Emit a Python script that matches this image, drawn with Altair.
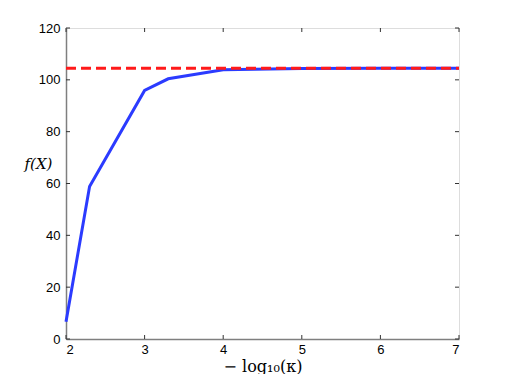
import altair as alt
import pandas as pd

x_vals = [2, 2.3, 3, 3.3, 4, 5, 6, 7]
f_vals = [6.7, 58.8, 95.9, 100.4, 103.9, 104.4, 104.5, 104.5]
ref_value = 104.5
x_ticks = [2, 3, 4, 5, 6, 7]
y_ticks = [0, 20, 40, 60, 80, 100, 120]

W, H = 393, 311
df = pd.DataFrame({"x": x_vals, "f": f_vals})
ref_df = pd.DataFrame({"x": [2, 7], "f": [ref_value, ref_value]})
xt = pd.DataFrame({"t": x_ticks})
yt = pd.DataFrame({"t": y_ticks})

xs = alt.Scale(domain=[2, 7], nice=False, zero=False)
ys = alt.Scale(domain=[0, 120], nice=False)

xaxis = alt.Axis(values=x_ticks, format="d", title="− log₁₀(κ)", titleFont="DejaVu Serif",
                 titleFontSize=16, titleFontWeight="normal", titleColor="black",
                 titlePadding=2, labelFont="Liberation Sans", labelFontSize=13,
                 labelColor="black", tickSize=0, labelPadding=4,
                 domainColor="#7f7f7f", domainWidth=1.5, grid=False)
yaxis = alt.Axis(values=y_ticks, format="d", title="f(X)", titleFont="DejaVu Serif",
                 titleFontStyle="italic", titleFontSize=15, titleFontWeight="normal",
                 titleColor="black", titleAngle=0, titleX=-28, titleY=135,
                 titleAlign="center", titleBaseline="middle",
                 labelFont="Liberation Sans", labelFontSize=13, labelColor="black",
                 tickSize=0, labelPadding=6, domainColor="#7f7f7f", domainWidth=1.5,
                 grid=False)

line = alt.Chart(df).mark_line(color="#2b3bff", strokeWidth=3).encode(
    x=alt.X("x:Q", scale=xs, axis=xaxis),
    y=alt.Y("f:Q", scale=ys, axis=yaxis),
)
ref = alt.Chart(ref_df).mark_line(color="#ff1a1a", strokeWidth=3, strokeDash=[10, 5]).encode(
    x=alt.X("x:Q", scale=xs),
    y=alt.Y("f:Q", scale=ys),
)

tick_color = "#333333"
bt = alt.Chart(xt).mark_rule(color=tick_color).encode(
    x=alt.X("t:Q", scale=xs), y=alt.value(H), y2=alt.value(H - 4))
tt = alt.Chart(xt).mark_rule(color=tick_color).encode(
    x=alt.X("t:Q", scale=xs), y=alt.value(0), y2=alt.value(4))
lt = alt.Chart(yt).mark_rule(color=tick_color).encode(
    y=alt.Y("t:Q", scale=ys), x=alt.value(0), x2=alt.value(4))
rt = alt.Chart(yt).mark_rule(color=tick_color).encode(
    y=alt.Y("t:Q", scale=ys), x=alt.value(W), x2=alt.value(W - 4))

chart = alt.layer(bt, tt, lt, rt, line, ref).properties(
    width=W, height=H,
    autosize=alt.AutoSizeParams(type="none"),
    padding={"left": 58, "top": 20, "right": 40, "bottom": 35},
).configure_view(stroke="#7f7f7f", strokeWidth=1.5).configure(background="white")

chart.save("out.html", embed_options={"renderer": "svg", "actions": False})
